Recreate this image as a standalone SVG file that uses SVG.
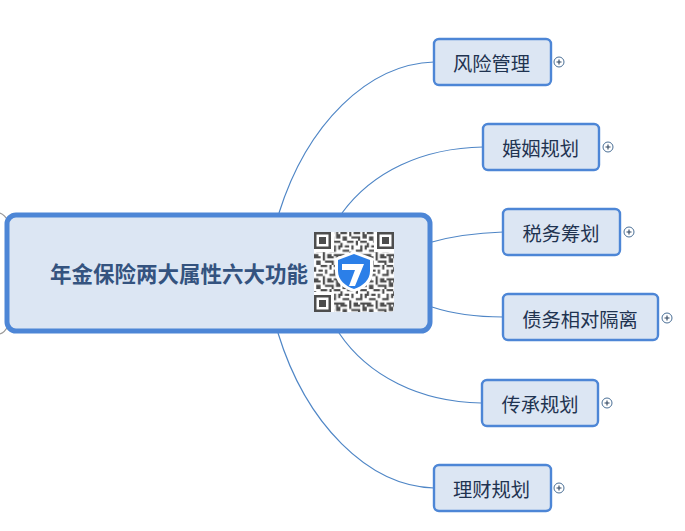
<svg xmlns="http://www.w3.org/2000/svg" width="685" height="531" viewBox="0 0 685 531">
<style>
.c{fill:none;stroke:#4f86c6;stroke-width:1.2}
.s{fill:none;stroke:#9a9a9a;stroke-width:1.2}
.n{fill:#dce6f3;stroke:#4d86d6;stroke-width:2.4}
.t{font-family:"Noto Sans CJK SC","Liberation Sans",sans-serif;font-size:19.300px;fill:#1f3350;text-anchor:middle}
.p{fill:#fff;stroke:#4a6f96;stroke-width:1}
.m{stroke:#2f4560;stroke-width:1.100;fill:none}
.q{fill:#4d4d4d}
</style>
<defs>
<pattern id="qr" x="314" y="232" width="26.400" height="24.200" patternUnits="userSpaceOnUse">
<path fill="#4d4d4d" d="M0 0h6.600v2.200H0zM8.800 0h2.200v4.400H8.800zM13.200 0h6.600v2.200h-6.600zM22 0h2.200v6.600H22zM2.200 4.400h4.400v4.400H2.200zM11 4.400h6.600v2.200H11zM17.600 4.400h2.200v4.400h-2.200zM24.200 2.200h2.200v4.400h-2.200zM6.600 8.800h6.600v2.200H6.600zM15.400 8.800h2.200v4.400h-2.200zM19.800 8.800h6.600v2.200h-6.600zM0 11h2.200v4.400H0zM4.400 13.200h4.400v2.200H4.400zM11 13.200h2.200v4.400H11zM19.800 13.200h2.200v4.400h-2.200zM24.200 13.200h2.200v4.400h-2.200zM2.200 17.600h6.600v2.200H2.200zM15.400 17.600h6.600v2.200h-6.600zM8.800 19.800h2.200v4.400H8.800zM0 22h4.400v2.200H0zM13.200 22h4.400v2.200h-4.400zM19.800 22h6.600v2.200h-6.600z"/>
</pattern>
</defs>
<rect width="685" height="531" fill="#fff"/>
<g id="connectors">
<path class="c" d="M279 213C307 124 368 64 434 62"/>
<path class="c" d="M342 213C372 172 422 148 483 147"/>
<path class="c" d="M432 242C453 236 477 233 503 232"/>
<path class="c" d="M432 307C453 314 477 317 503 317"/>
<path class="c" d="M339 333C368 376 420 402 481 403"/>
<path class="c" d="M278 333C306 424 368 486 434 488"/>
<path class="s" d="M0 213C3 214 6 217 8 221"/>
<path class="s" d="M0 334C3 333 6 330 8 326"/>
</g>
<g id="root">
<rect x="7" y="215" width="423" height="116" rx="9" fill="#dce6f3" stroke="#4d86d6" stroke-width="5"/>
<text x="179" y="282" font-family="'Noto Sans CJK SC','Liberation Sans',sans-serif" font-size="21.500" font-weight="700" fill="#34537f" text-anchor="middle">年金保险两大属性六大功能</text>
<g id="qrcode">
<rect x="314" y="232" width="80" height="80" rx="3" fill="#fff"/>
<rect x="314" y="232" width="80" height="80" rx="3" fill="url(#qr)"/>
<path fill="#fff" d="M314 232h20v20h-20zM374 232h20v20h-20zM314 292h20v20h-20z"/>
<path class="q" fill-rule="evenodd" d="M314 232h17v17h-17zM316.500 234.500v12h12v-12zM377 232h17v17h-17zM379.500 234.500v12h12v-12zM314 295h17v17h-17zM316.500 297.500v12h12v-12z"/>
<path class="q" d="M319 237h7v7h-7zM382 237h7v7h-7zM319 300h7v7h-7z"/>
<path fill="#fff" d="M354 251l19 7v13c0 11-8 18-19 21c-11-3-19-10-19-21v-13z"/>
<path fill="#2b7fe8" d="M354 254l16 6v11c0 9-7 15-16 18c-9-3-16-9-16-18v-11z"/>
<path fill="#fff" d="M342 264h22l-9 22h-6l6-16h-13z"/>
</g>
</g>
<g id="n1"><rect class="n" x="434" y="39" width="117" height="46" rx="5"/><text class="t" x="491.500" y="71">风险管理</text><circle class="p" cx="559" cy="62" r="5"/><path class="m" d="M556.500 62h5M559 59.500v5"/></g>
<g id="n2"><rect class="n" x="483" y="124" width="116" height="46" rx="5"/><text class="t" x="540.500" y="156">婚姻规划</text><circle class="p" cx="608" cy="147" r="5"/><path class="m" d="M605.500 147h5M608 144.500v5"/></g>
<g id="n3"><rect class="n" x="503" y="209" width="117" height="46" rx="5"/><text class="t" x="561" y="241">税务筹划</text><circle class="p" cx="629" cy="232" r="5"/><path class="m" d="M626.500 232h5M629 229.500v5"/></g>
<g id="n4"><rect class="n" x="503" y="294" width="155" height="46" rx="5"/><text class="t" x="580" y="327">债务相对隔离</text><circle class="p" cx="667" cy="318" r="5"/><path class="m" d="M664.500 318h5M667 315.500v5"/></g>
<g id="n5"><rect class="n" x="482" y="380" width="116" height="46" rx="5"/><text class="t" x="540" y="412">传承规划</text><circle class="p" cx="607" cy="403" r="5"/><path class="m" d="M604.500 403h5M607 400.500v5"/></g>
<g id="n6"><rect class="n" x="434" y="465" width="117" height="46" rx="5"/><text class="t" x="491.500" y="497">理财规划</text><circle class="p" cx="559" cy="488" r="5"/><path class="m" d="M556.500 488h5M559 485.500v5"/></g>
</svg>
